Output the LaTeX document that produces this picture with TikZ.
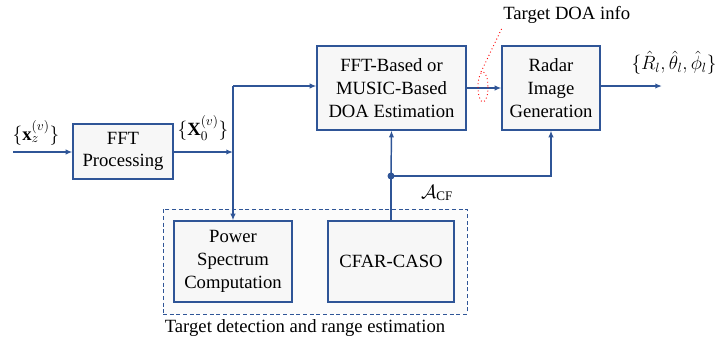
\documentclass[tikz,border=0pt]{standalone}
\usepackage{amssymb}
\usepackage{mathtools}
\usepackage{fontspec}
\setmainfont{Liberation Serif}
\usetikzlibrary{arrows.meta}
\definecolor{flowblue}{RGB}{47,85,151}

\begin{document}
\begin{tikzpicture}[x=0.75pt, y=-0.75pt,
        font=\rmfamily\fontsize{14}{17}\selectfont,
        block/.style={draw=flowblue, line width=0.9pt, fill=black!3, align=center, inner sep=0pt},
        flow/.style={draw=flowblue, line width=1.5pt, -{Latex[length=5pt,width=4pt]}},
        link/.style={draw=flowblue, line width=1.1pt, -{Latex[length=5pt,width=4pt]}}]
        \useasboundingbox (0,0) rectangle (720,340);

        % outer frame of the detection stage
        \node[draw=flowblue, dash pattern=on 3pt off 2pt, line width=0.6pt, fill=black!1.5, minimum width=304*0.75pt, minimum height=105*0.75pt] (detect) at (315,261.5) {};

        \node[block, minimum width=100*0.75pt, minimum height=55*0.75pt] (fft) at (123,151.5) {FFT\\Processing};
        \node[block, minimum width=149*0.75pt, minimum height=84*0.75pt] (doa) at (391.5,88) {FFT-Based or\\MUSIC-Based\\DOA Estimation};
        \node[block, minimum width=98*0.75pt, minimum height=84*0.75pt] (radar) at (551,88) {Radar\\Image\\Generation};
        \node[block, minimum width=118*0.75pt, minimum height=81*0.75pt] (power) at (233,261.5) {Power\\Spectrum\\Computation};
        \node[block, minimum width=126*0.75pt, minimum height=81*0.75pt] (cfar) at (391,261.5) {CFAR-CASO};

        \coordinate (input) at (13,152);
        \coordinate (split) at (233,152);
        \coordinate (corner) at (233,86);
        \coordinate (tap) at (391,176);
        \coordinate (output) at (662,86);

        \draw[flow] (input) -- (fft.west |- input);
        \draw[flow] (fft.east |- split) -- (split);
        \draw[flow] (corner) -- (doa.west |- corner);
        \draw[flow] (corner) -- (power.north);
        \draw[flow] (doa.east) -- (radar.west);
        \draw[flow] (radar.east |- output) -- (output);

        \draw[draw=flowblue, line width=1.1pt] (cfar.north) -- (tap);
        \draw[link] (tap) -- (doa.south);
        \draw[link] (tap) -| (radar.south);
        \fill[flowblue] (tap) circle (3.5);

        % marker on the DOA link
        \draw[red, dotted, line width=0.7pt] (483,87) ellipse (5 and 15);
        \coordinate (mark) at (481,72);
        \node[anchor=west, inner sep=0pt] (doainfo) at (503,15) {Target DOA info};
        \draw[red, dotted, line width=0.7pt] (mark) -- (502,28);

        \node (xin) at (36,133) {$\{\mathbf{x}_z^{(v)}\}$};
        \node (xout) at (203,128) {$\{\mathbf{X}_0^{(v)}\}$};
        \node (est) at (674,63) {$\{\hat{R}_l,\hat{\theta}_l,\hat{\phi}_l\}$};
        \node (acf) at (437,193) {$\mathcal{A}_{\mathrm{CF}}$};
        \node (detlabel) at (305,328) {Target detection and range estimation};
\end{tikzpicture}
\end{document}
